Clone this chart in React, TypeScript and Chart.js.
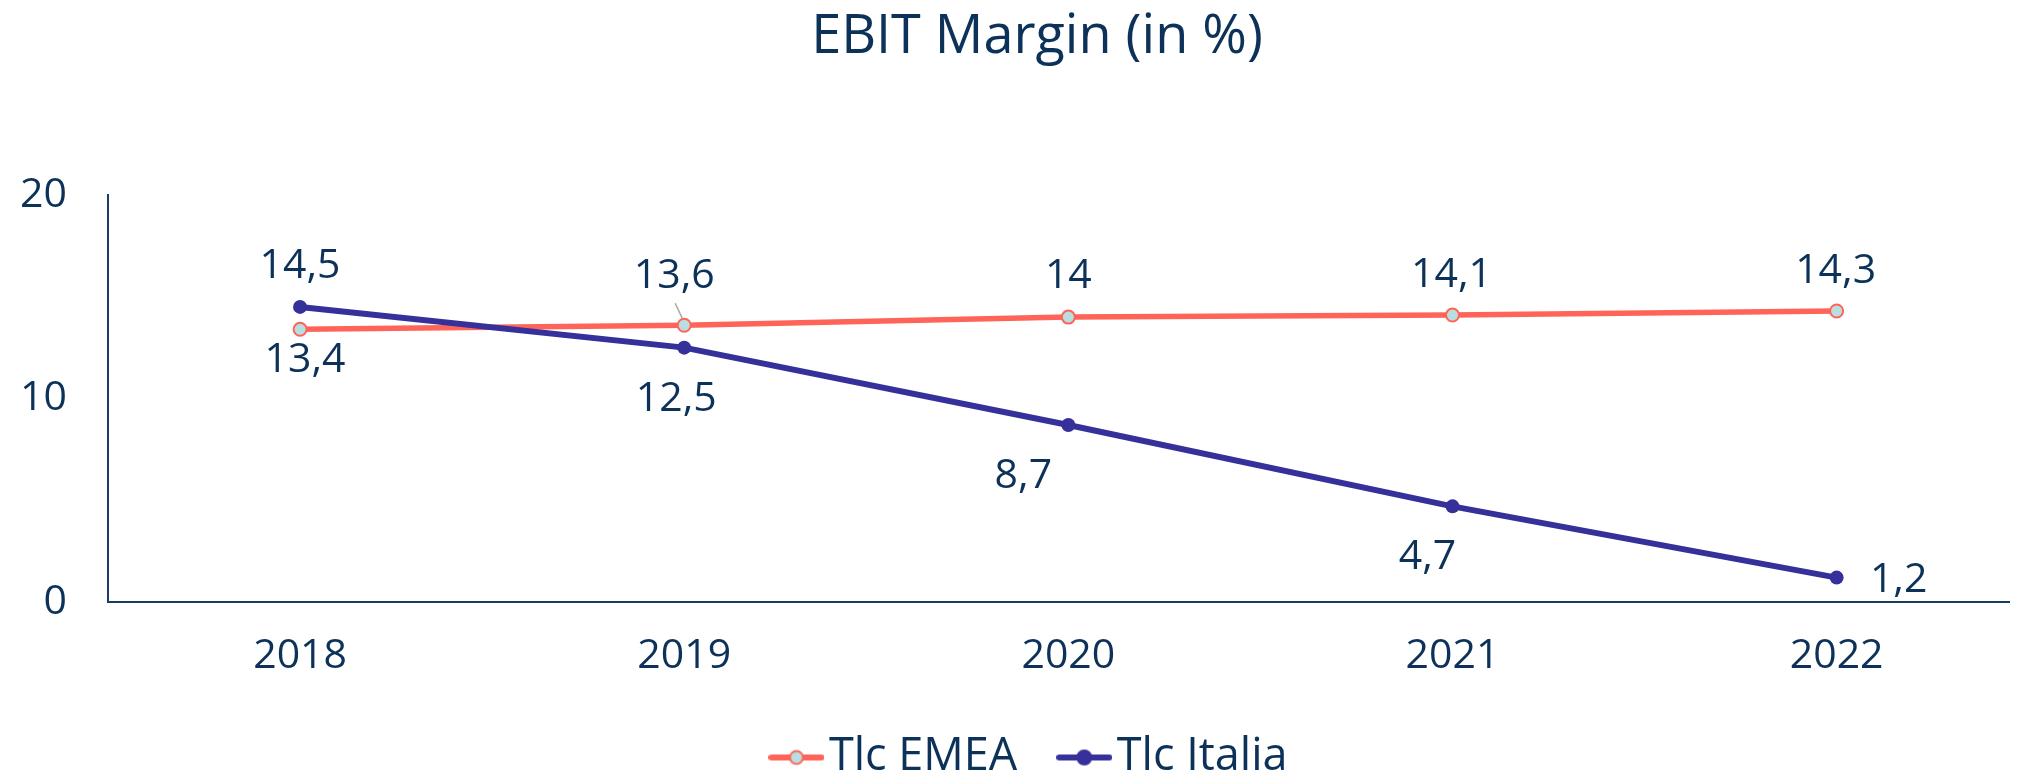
import React, { useEffect, useRef } from "react";
import { Chart, registerables } from "chart.js";

Chart.register(...registerables);

const YEARS = ["2018", "2019", "2020", "2021", "2022"];
const EMEA_VALUES = [13.4, 13.6, 14, 14.1, 14.3];
const ITALIA_VALUES = [14.5, 12.5, 8.7, 4.7, 1.2];
const Y_TICKS = [0, 10, 20];
const SERIES_NAMES = ["Tlc EMEA", "Tlc Italia"];

const NAVY = "#0d3259";
const AXIS = "#173d66";
const ORANGE = "#ff6459";
const BLUE = "#36309a";
const EMEA_FILL = "#b9dee0";
const FONT = '"Open Sans"';

// label placement relative to each point (layout, not data)
const LABEL_OFFSETS = [
  [[5, 28], [-10, -52], [0, -44], [-1, -43], [-1, -43]],
  [[0, -44], [-8, 49], [-45, 48], [-25, 48], [62, 0]],
];

const fmt = (v: number) => String(v).replace(".", ",");

function legendIcon(color: string, fill: string, r: number) {
  const c = document.createElement("canvas");
  c.width = 56;
  c.height = 18;
  const g = c.getContext("2d")!;
  g.strokeStyle = color;
  g.lineWidth = 6;
  g.lineCap = "round";
  g.beginPath();
  g.moveTo(3, 9);
  g.lineTo(53, 9);
  g.stroke();
  g.beginPath();
  g.arc(28, 9, r, 0, Math.PI * 2);
  g.fillStyle = fill;
  g.fill();
  g.lineWidth = 2;
  g.strokeStyle = color;
  g.stroke();
  return c;
}

const valueLabels = {
  id: "valueLabels",
  afterDatasetsDraw(chart: any) {
    const ctx = chart.ctx;
    const size = 41;
    ctx.save();
    ctx.font = `400 ${size}px ${FONT}`;
    ctx.fillStyle = NAVY;
    ctx.textAlign = "center";
    ctx.textBaseline = "alphabetic";
    chart.data.datasets.forEach((ds: any, di: number) => {
      const meta = chart.getDatasetMeta(di);
      meta.data.forEach((pt: any, i: number) => {
        const [dx, dy] = LABEL_OFFSETS[di][i];
        ctx.fillText(fmt(ds.data[i].y), pt.x + dx, pt.y + dy + size * 0.357);
        if (di === 0 && i === 1) {
          ctx.strokeStyle = "#a6a6a6";
          ctx.lineWidth = 1.5;
          ctx.beginPath();
          ctx.moveTo(pt.x - 9, pt.y - 22);
          ctx.lineTo(pt.x - 2, pt.y - 7);
          ctx.stroke();
        }
      });
    });
    ctx.restore();
  },
};

export default function App() {
  const ref = useRef<HTMLCanvasElement>(null);

  useEffect(() => {
    if (!ref.current) return;
    Chart.defaults.font.family = FONT;
    const icons = [legendIcon(ORANGE, EMEA_FILL, 6.5), legendIcon(BLUE, BLUE, 7)];
    const chart = new Chart(ref.current, {
      type: "line",
      data: {
        datasets: [
          {
            label: SERIES_NAMES[0],
            data: EMEA_VALUES.map((v, i) => ({ x: i, y: v })),
            borderColor: ORANGE,
            backgroundColor: EMEA_FILL,
            borderWidth: 5.5,
            pointRadius: 6.5,
            pointBorderWidth: 2,
            pointBorderColor: ORANGE,
            pointBackgroundColor: EMEA_FILL,
            tension: 0,
            order: 1,
          },
          {
            label: SERIES_NAMES[1],
            data: ITALIA_VALUES.map((v, i) => ({ x: i, y: v })),
            borderColor: BLUE,
            backgroundColor: BLUE,
            borderWidth: 6,
            pointRadius: 7,
            pointBorderWidth: 0,
            pointBackgroundColor: BLUE,
            tension: 0,
            order: 0,
          },
        ],
      },
      options: {
        responsive: false,
        animation: false,
        devicePixelRatio: 1,
        layout: { padding: { top: 0, left: 0, right: -56, bottom: -18 } },
        scales: {
          x: {
            type: "linear",
            min: -0.5,
            max: 4.45,
            afterBuildTicks: (scale: any) => {
              scale.ticks = YEARS.map((_, i) => ({ value: i }));
            },
            afterFit: (scale: any) => {
              scale.height = 76;
            },
            grid: { display: false, drawTicks: false },
            border: { display: true, color: AXIS, width: 2 },
            ticks: {
              color: NAVY,
              font: { size: 41 },
              padding: 30,
              maxRotation: 0,
              autoSkip: false,
              callback: (v: any) => YEARS[v] ?? "",
            },
          },
          y: {
            min: 0,
            max: 20,
            afterBuildTicks: (scale: any) => {
              scale.ticks = Y_TICKS.map((v) => ({ value: v }));
            },
            afterFit: (scale: any) => {
              scale.width = 108;
            },
            grid: { display: false, drawTicks: false },
            border: { display: true, color: AXIS, width: 2 },
            ticks: { color: NAVY, font: { size: 41 }, padding: 41 },
          },
        },
        plugins: {
          title: {
            display: true,
            text: "EBIT Margin (in %)",
            color: NAVY,
            font: { size: 54, weight: "normal" },
            padding: { top: 5, bottom: 125.2 },
          },
          legend: {
            display: true,
            position: "bottom",
            labels: {
              color: NAVY,
              font: { size: 45 },
              usePointStyle: true,
              pointStyleWidth: 20,
              padding: 57,
              sort: (a: any, b: any) => a.datasetIndex - b.datasetIndex,
              generateLabels: (c: any) => {
                const items = Chart.defaults.plugins.legend.labels.generateLabels(c);
                items.forEach((it: any) => {
                  it.pointStyle = icons[it.datasetIndex];
                });
                return items;
              },
            },
          },
          tooltip: { enabled: false },
        },
      },
      plugins: [valueLabels],
    } as any);
    return () => chart.destroy();
  }, []);

  return (
    <div style={{ position: "fixed", left: 0, top: 0, width: 2018, height: 772, background: "#fff" }}>
      <canvas ref={ref} width={2018} height={772} style={{ width: 2018, height: 772 }} />
    </div>
  );
}
